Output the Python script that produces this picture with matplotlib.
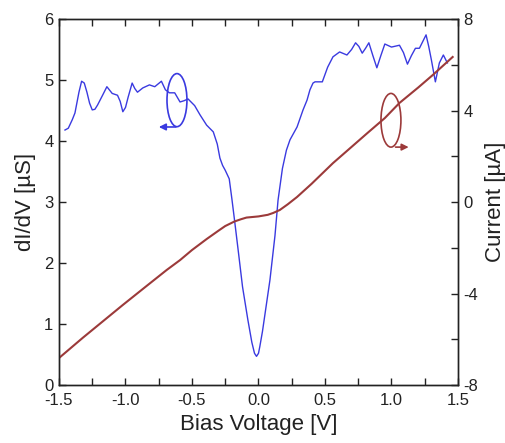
import matplotlib
matplotlib.use("Agg")
import matplotlib.pyplot as plt
from matplotlib.patches import Ellipse
from matplotlib.ticker import MultipleLocator

plt.rcParams['font.family'] = ['Liberation Sans', 'DejaVu Sans']
plt.rcParams['axes.unicode_minus'] = False

# dI/dV data (left axis, µS)
v_didv = [-1.455, -1.43, -1.40, -1.38, -1.35, -1.33, -1.31, -1.29, -1.27, -1.25, -1.23,
          -1.21, -1.17, -1.14, -1.10, -1.06, -1.04, -1.02, -1.00, -0.98, -0.95, -0.93,
          -0.91, -0.87, -0.82, -0.78, -0.73, -0.70, -0.67, -0.63,
          -0.59, -0.56, -0.53, -0.48, -0.44, -0.39, -0.34, -0.31, -0.29, -0.27, -0.25,
          -0.22, -0.20, -0.18, -0.15, -0.12, -0.08, -0.05, -0.03, -0.015, 0.0, 0.01,
          0.03, 0.05, 0.086, 0.124, 0.147, 0.18, 0.21, 0.237, 0.29, 0.335, 0.365, 0.387,
          0.41, 0.425, 0.48, 0.52, 0.56, 0.61, 0.665, 0.70, 0.73, 0.755, 0.78, 0.805,
          0.83, 0.86, 0.89, 0.92, 0.95, 1.00, 1.06, 1.09, 1.12, 1.15, 1.18, 1.21, 1.26,
          1.28, 1.30, 1.33, 1.36, 1.39, 1.42]
didv = [4.18, 4.21, 4.35, 4.46, 4.80, 4.98, 4.95, 4.80, 4.62, 4.51, 4.52,
        4.59, 4.76, 4.89, 4.78, 4.75, 4.65, 4.48, 4.55, 4.72, 4.95, 4.86,
        4.80, 4.87, 4.92, 4.89, 4.98, 4.84, 4.79, 4.79,
        4.64, 4.66, 4.69, 4.58, 4.43, 4.26, 4.15, 3.95, 3.72, 3.60, 3.52,
        3.38, 3.05, 2.70, 2.16, 1.61, 1.07, 0.70, 0.52, 0.47, 0.52, 0.63,
        0.88, 1.18, 1.72, 2.45, 3.03, 3.55, 3.85, 4.02, 4.23, 4.51, 4.67, 4.84,
        4.95, 4.97, 4.97, 5.21, 5.38, 5.46, 5.41, 5.50, 5.61, 5.55, 5.44, 5.52,
        5.61, 5.40, 5.20, 5.40, 5.59, 5.54, 5.57, 5.45, 5.26, 5.40, 5.52, 5.52, 5.74,
        5.55, 5.33, 4.97, 5.28, 5.41, 5.28]

# Current data (right axis, µA)
v_cur = [-1.5, -1.32, -1.02, -0.85, -0.69, -0.59, -0.50, -0.39, -0.30, -0.25, -0.18,
         -0.13, -0.09, 0.0, 0.07, 0.11, 0.16, 0.22, 0.29, 0.40, 0.56, 0.70, 0.82, 0.95,
         1.06, 1.20, 1.31, 1.46]
cur = [-6.82, -5.93, -4.50, -3.71, -2.97, -2.54, -2.10, -1.62, -1.25, -1.05, -0.85,
       -0.75, -0.68, -0.63, -0.56, -0.48, -0.35, -0.10, 0.22, 0.80, 1.70, 2.41, 3.02, 3.67,
       4.33, 5.00, 5.55, 6.34]

blue = '#3a3ae0'
red = '#9c3a3a'

fig = plt.figure(figsize=(5.06, 4.43), dpi=100)
ax = fig.add_axes([0.1166, 0.1309, 0.7885, 0.8262])
ax2 = ax.twinx()

ax.plot(v_didv, didv, color=blue, lw=1.0, solid_joinstyle='round')
ax2.plot(v_cur, cur, color=red, lw=1.5, solid_joinstyle='round')

ax.set_xlim(-1.5, 1.5)
ax.set_ylim(0, 6)
ax2.set_ylim(-8, 8)

ax.xaxis.set_major_locator(MultipleLocator(0.5))
ax.xaxis.set_minor_locator(MultipleLocator(0.25))
ax.yaxis.set_major_locator(MultipleLocator(1))
ax2.yaxis.set_major_locator(MultipleLocator(4))
ax2.yaxis.set_minor_locator(MultipleLocator(2))
ax.set_xticklabels([f"{t:.1f}" for t in ax.get_xticks()])
ax.set_xlim(-1.5, 1.5)

ax.tick_params(axis='x', which='both', direction='in', top=True, length=5, width=1,
               labelsize=12, pad=6, colors='#222222')
ax.tick_params(axis='y', which='both', direction='in', length=5, width=1,
               labelsize=12, pad=4, colors='#222222')
ax2.tick_params(axis='y', which='both', direction='in', length=5, width=1,
                labelsize=12, pad=4, colors='#222222')

for a in (ax, ax2):
    for s in a.spines.values():
        s.set_color('#222222')
        s.set_linewidth(1.0)

ax.set_xlabel('Bias Voltage [V]', fontsize=16, color='#222222', labelpad=4)
ax.set_ylabel('dI/dV [µS]', fontsize=16, color='#222222', labelpad=6)
ax2.set_ylabel('Current [µA]', fontsize=16, color='#222222', labelpad=5)

# annotations: ellipses with arrows
ax.add_patch(Ellipse((-0.613, 4.67), 0.15, 0.87, fill=False, edgecolor=blue, lw=1.2))
ax.annotate('', xy=(-0.77, 4.23), xytext=(-0.60, 4.23),
            arrowprops=dict(arrowstyle='-|>', color=blue, lw=1.2, mutation_scale=10))
ax.add_patch(Ellipse((0.996, 4.34), 0.15, 0.88, fill=False, edgecolor=red, lw=1.2))
ax.annotate('', xy=(1.15, 3.90), xytext=(1.01, 3.90),
            arrowprops=dict(arrowstyle='-|>', color=red, lw=1.2, mutation_scale=10))

fig.savefig('out.png', dpi=100)
